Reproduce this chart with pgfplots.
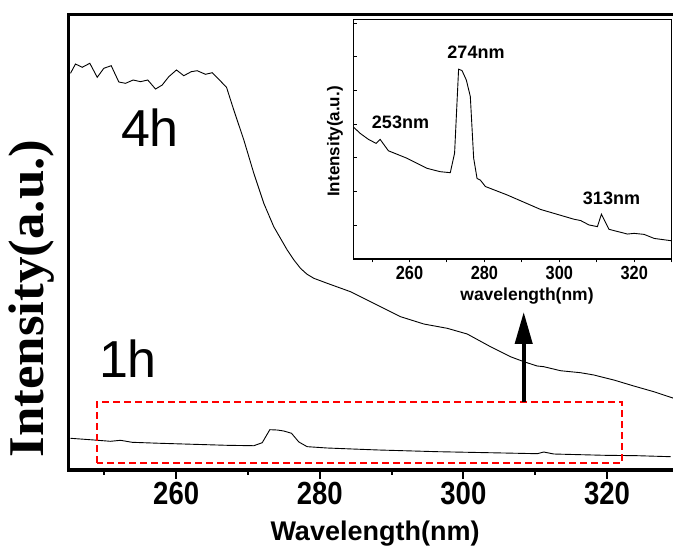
\documentclass[border=0pt]{standalone}
\usepackage{fontspec}
\setmainfont{Liberation Sans}
\newfontfamily\nsans[FakeStretch=0.86]{Liberation Sans}
\newfontfamily\tnr[FakeStretch=1.06]{Liberation Serif}
\usepackage{pgfplots}
\pgfplotsset{compat=1.18}
\usetikzlibrary{arrows.meta}

\pgfplotstableread{
x y
245.28 87.09
245.97 89.13
246.91 88.41
247.97 89.29
249.00 86.21
249.92 88.19
250.95 88.76
252.01 85.18
252.94 84.89
254.01 85.62
255.03 85.25
256.04 85.62
257.12 83.64
258.05 84.52
258.97 86.35
260.04 87.82
261.06 86.56
262.09 87.44
262.92 87.66
264.08 86.87
265.01 87.22
265.93 85.77
267.01 84.02
268.02 79.03
269.42 72.45
270.81 65.14
272.20 58.55
273.59 53.41
275.46 48.30
276.40 46.10
277.31 44.28
278.20 43.00
279.16 42.09
281.03 40.99
284.28 39.14
285.21 38.42
288.00 36.22
291.24 33.66
294.49 32.05
297.74 31.11
300.53 29.86
303.77 27.07
306.56 24.87
308.41 23.78
310.28 22.83
311.20 22.68
313.52 21.80
316.31 21.36
318.16 20.86
320.95 19.76
323.73 18.44
326.52 17.19
329.30 15.74
}\fourh

\pgfplotstableread{
x y
245.28 6.96
248.52 6.59
250.85 6.30
252.24 6.52
253.87 6.08
257.81 5.86
262.45 5.64
267.10 5.42
270.81 5.33
271.98 5.99
273.04 8.85
274.07 8.78
274.99 8.56
276.06 8.06
277.08 6.15
278.24 5.12
281.03 4.83
285.67 4.54
288.22 4.39
296.35 4.02
305.63 3.73
310.28 3.58
311.20 3.95
312.59 3.51
319.56 3.23
324.21 3.14
328.85 2.92
}\oneh

\pgfplotstableread{
x y
245.19 3.90
246.79 3.73
249.02 3.55
251.08 3.43
252.15 3.55
254.37 3.21
259.30 2.99
264.65 2.69
268.21 2.59
270.89 2.56
272.04 3.14
273.11 5.63
274.02 5.59
275.17 5.31
276.24 4.82
277.13 2.99
278.04 2.39
278.92 2.34
280.26 2.15
286.07 1.90
294.99 1.47
303.90 1.18
305.70 1.14
307.92 1.01
310.17 0.96
311.24 1.33
313.27 0.88
318.20 0.74
319.97 0.76
322.64 0.73
325.32 0.61
330.00 0.54
}\inset

\begin{document}
\begin{tikzpicture}[x=1pt,y=1pt]
\begin{axis}[
  at={(68.5pt,90pt)}, anchor=south west,
  scale only axis, width=610.3pt, height=455.5pt,
  xmin=245, xmax=330, ymin=0, ymax=100,
  axis line style={line width=3.5pt},
  xtick={260,280,300,320}, minor xtick={250,270,290,310},
  ytick=\empty,
  xtick pos=bottom, tick align=outside,
  major tick length=9pt, minor tick length=5pt,
  tick style={black, line width=2pt},
  /pgf/number format/assume math mode=true,
  xticklabel style={font=\nsans\bfseries\fontsize{32}{32}\selectfont},
]
\addplot[black, line width=0.9pt] table[x=x,y=y] {\fourh};
\addplot[black, line width=0.9pt] table[x=x,y=y] {\oneh};
\draw[red, line width=2pt, dash pattern=on 7pt off 4pt] (axis cs:249,1.55) rectangle (axis cs:322.1,14.95);
\draw[black, line width=4pt, -{Triangle[length=32pt,width=17pt]}] (axis cs:308.4,14.9) -- (axis cs:308.4,34.7);
\end{axis}

\begin{axis}[
  at={(353.3pt,301pt)}, anchor=south west,
  scale only axis, width=318.4pt, height=239.7pt,
  xmin=245, xmax=330, ymin=0, ymax=7.11,
  axis background/.style={fill=white},
  axis line style={line width=1.5pt},
  xtick={260,280,300,320}, minor xtick={250,270,290,310,330},
  ytick={1,2,3,4,5,6,7}, yticklabels={},
  xtick pos=bottom, ytick pos=left, tick align=outside,
  major tick length=3.5pt, minor tick length=3.5pt,
  tick style={black, line width=1pt},
  every major y tick/.append style={xshift=3.5pt},
  /pgf/number format/assume math mode=true,
  xticklabel style={font=\nsans\bfseries\fontsize{19}{19}\selectfont},
]
\addplot[black, line width=0.9pt] table[x=x,y=y] {\inset};
\end{axis}

\node[font=\bfseries\fontsize{17.5}{17.5}\selectfont] at (527,263.5) {wavelength(nm)};
\node[rotate=90, font=\bfseries\fontsize{17}{17}\selectfont] at (335,418.5) {Intensity(a.u.)};
\node[font=\bfseries\fontsize{18}{18}\selectfont] at (476,508) {274nm};
\node[font=\bfseries\fontsize{18}{18}\selectfont] at (400.5,437.5) {253nm};
\node[font=\bfseries\fontsize{18}{18}\selectfont] at (611.5,361.5) {313nm};

\node[font=\fontsize{52}{52}\selectfont] at (150,432.5) {4h};
\node[font=\fontsize{52}{52}\selectfont] at (128,201) {1h};

\node[font=\bfseries\fontsize{27}{27}\selectfont] at (375,26) {Wavelength(nm)};
\node[rotate=90, font=\tnr\bfseries\fontsize{50}{50}\selectfont] at (32,261.5) {Intensity(a.u.)};

\pgfresetboundingbox
\useasboundingbox (0,0) rectangle (673,560);
\end{tikzpicture}
\end{document}
